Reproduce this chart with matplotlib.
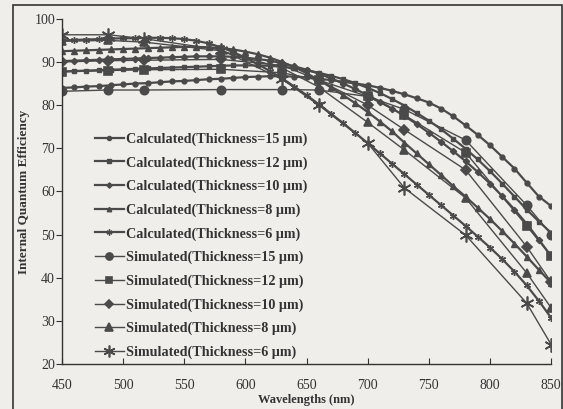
import numpy as np
import matplotlib
matplotlib.use("Agg")
import matplotlib.pyplot as plt
from matplotlib.patches import Rectangle

# wavelengths (nm)
calc_wl = list(range(450, 851, 10))
sim_wl = [450, 488, 517, 580, 630, 660, 700, 730, 780, 830, 850]

# calculated internal quantum efficiency (%)
calc_15 = [84.0, 84.1, 84.3, 84.4, 84.6, 84.8, 85.0, 85.1, 85.3, 85.5, 85.6,
           85.8, 86.0, 86.1, 86.3, 86.5, 86.6, 86.7, 86.7, 86.6, 86.4, 86.1,
           85.8, 85.4, 85.0, 84.6, 84.0, 83.3, 82.5, 81.6, 80.6, 79.2, 77.4,
           75.3, 73.1, 70.7, 68.0, 65.3, 62.0, 58.8, 56.6]
calc_12 = [87.8, 87.9, 88.0, 88.1, 88.2, 88.3, 88.4, 88.5, 88.6, 88.7, 88.8,
           88.9, 89.0, 89.1, 89.2, 89.2, 89.2, 89.1, 88.9, 88.6, 88.1, 87.5,
           86.8, 86.0, 85.1, 84.0, 82.8, 81.4, 79.9, 78.2, 76.4, 74.4, 72.2,
           69.9, 67.4, 64.7, 61.8, 58.8, 55.8, 53.0, 50.4]
calc_10 = [90.2, 90.3, 90.4, 90.5, 90.6, 90.7, 90.8, 90.9, 91.0, 91.1, 91.2,
           91.3, 91.3, 91.3, 91.2, 91.0, 90.7, 90.3, 89.7, 89.0, 88.2, 87.3,
           86.2, 85.0, 83.7, 82.3, 80.8, 79.2, 77.5, 75.6, 73.6, 71.5, 69.3,
           67.0, 64.5, 61.8, 58.9, 55.8, 52.5, 48.8, 45.0]
calc_8 = [92.5, 92.6, 92.7, 92.8, 92.9, 93.0, 93.1, 93.2, 93.3, 93.4, 93.5,
          93.5, 93.4, 93.2, 92.9, 92.4, 91.8, 91.0, 90.0, 88.8, 87.4, 85.8,
          84.1, 82.3, 80.4, 78.4, 76.2, 73.9, 71.3, 68.8, 66.3, 63.8, 61.2,
          58.8, 56.2, 53.6, 50.8, 47.9, 44.9, 41.8, 38.8]
calc_6 = [95.0, 95.1, 95.2, 95.3, 95.4, 95.5, 95.5, 95.6, 95.6, 95.5, 95.3,
          94.9, 94.3, 93.4, 92.3, 91.0, 89.5, 87.9, 86.2, 84.3, 82.3, 80.2,
          78.0, 75.8, 73.5, 71.2, 68.8, 66.4, 64.0, 61.6, 59.2, 56.8, 54.4,
          52.0, 49.5, 47.0, 44.3, 41.4, 38.2, 34.6, 30.7]

# simulated internal quantum efficiency (%)
sim_15 = [83.2, 83.5, 83.5, 83.6, 83.6, 83.5, 82.0, 79.0, 71.9, 56.8, 50.0]
sim_12 = [87.7, 88.0, 88.2, 88.3, 87.5, 85.8, 82.0, 77.7, 69.0, 52.0, 45.0]
sim_10 = [90.0, 90.3, 90.4, 90.6, 89.2, 85.8, 80.0, 74.3, 65.0, 47.2, 39.0]
sim_8 = [94.8, 95.0, 94.6, 92.6, 88.6, 84.2, 76.0, 69.6, 58.5, 41.1, 33.0]
sim_6 = [96.3, 96.3, 95.4, 92.8, 86.0, 80.0, 71.2, 60.8, 49.9, 34.1, 24.5]

labels_calc = ["Calculated(Thickness=15 \u03bcm)", "Calculated(Thickness=12 \u03bcm)",
               "Calculated(Thickness=10 \u03bcm)", "Calculated(Thickness=8 \u03bcm)",
               "Calculated(Thickness=6 \u03bcm)"]
labels_sim = ["Simulated(Thickness=15 \u03bcm)", "Simulated(Thickness=12 \u03bcm)",
              "Simulated(Thickness=10 \u03bcm)", "Simulated(Thickness=8 \u03bcm)",
              "Simulated(Thickness=6 \u03bcm)"]

BG = "#efeeeb"
INK = "#4a4a4a"
plt.rcParams["font.family"] = ["Liberation Serif", "DejaVu Serif"]

fig = plt.figure(figsize=(5.63, 4.09), dpi=100, facecolor=BG)
ax = fig.add_axes([0.110, 0.110, 0.869, 0.844])
ax.set_facecolor(BG)

calc_markers = ["o", "s", "D", "^", (6, 2, 0)]
calc_sizes = [3.5, 3.5, 3.2, 3.8, 5]
sim_markers = ["o", "s", "D", "^", (6, 2, 0)]
sim_sizes = [6, 5.5, 5, 6, 10]

for ys, lab, m, s in zip([calc_15, calc_12, calc_10, calc_8, calc_6],
                         labels_calc, calc_markers, calc_sizes):
    ax.plot(calc_wl, ys, color=INK, lw=1.6, marker=m, ms=s, mfc=INK, mec=INK,
            mew=1.0, label=lab)
for ys, lab, m, s in zip([sim_15, sim_12, sim_10, sim_8, sim_6],
                         labels_sim, sim_markers, sim_sizes):
    ax.plot(sim_wl, ys, color=INK, lw=1.0, marker=m, ms=s, mfc=INK, mec=INK,
            mew=1.2, label=lab)

ax.set_xlim(450, 850)
ax.set_ylim(20, 100)
ax.set_xticks(range(450, 851, 50))
ax.set_yticks(range(20, 101, 10))
ax.spines["top"].set_visible(False)
ax.spines["right"].set_visible(False)
for sp in ("left", "bottom"):
    ax.spines[sp].set_color("#333333")
    ax.spines[sp].set_linewidth(1.0)
ax.tick_params(axis="y", direction="out", length=4, color="#333333",
               labelsize=10, labelcolor="#333333", pad=1)
ax.tick_params(axis="x", direction="in", length=4, color="#333333",
               labelsize=10, labelcolor="#333333", pad=11)

ax.set_xlabel("Wavelengths (nm)", fontsize=9, fontweight="bold",
              color="#333333", labelpad=1)
ax.set_ylabel("Internal Quantum Efficiency", fontsize=9.5, fontweight="bold",
              color="#333333", labelpad=3)

leg = ax.legend(loc="upper left", bbox_to_anchor=(0.068, 0.671), frameon=False,
                fontsize=10.2, handlelength=2.0, handletextpad=0.2,
                labelspacing=0.72, borderpad=0, borderaxespad=0,
                markerscale=0.85)
for t in leg.get_texts():
    t.set_fontweight("bold")
    t.set_color("#333333")

# outer chart border
fig.patches.append(Rectangle((13 / 563, -0.01), (562 - 13) / 563, 1 - 5 / 409 + 0.01,
                             transform=fig.transFigure, fill=False,
                             edgecolor="#333333", lw=1.2))

fig.savefig("out.png", dpi=100, facecolor=BG)
